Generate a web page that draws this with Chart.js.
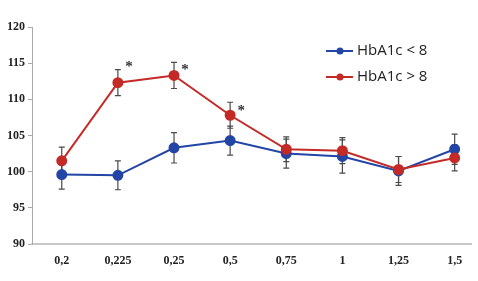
<!DOCTYPE html>
<html>
<head>
<meta charset="utf-8">
<script src="https://cdn.jsdelivr.net/npm/chart.js@4.4.0/dist/chart.umd.min.js"></script>
<style>
html,body{margin:0;padding:0;background:#fff;}
#wrap{width:478px;height:281px;position:relative;}
</style>
</head>
<body>
<div id="wrap"><canvas id="c"></canvas></div>
<script>
/* HbA1c groups — mean with error bars */
const categories=['0,2','0,225','0,25','0,5','0,75','1','1,25','1,5'];
const lowLabel='HbA1c < 8';
const highLabel='HbA1c > 8';
const lowMean=[99.6,99.5,103.3,104.3,102.5,102.1,100.1,103.1];
const lowErr=[2.0,2.0,2.1,2.0,2.0,2.3,2.0,2.1];
const highMean=[101.5,112.3,113.3,107.8,103.1,102.9,100.3,101.9];
const highErr=[1.9,1.8,1.8,1.8,1.7,1.8,1.8,1.8];
const starIdx=[1,2,3];
const starVal=[115.0,114.6,108.9];
const yTicks=[90,95,100,105,110,115,120];

(function(){
  const blue='#2245a6',red='#c42a26';
  function pts(arr){return arr.map(function(v,i){return {x:i,y:v};});}

  const errorBars={id:'errorBars',beforeDatasetsDraw(chart){
    const ctx=chart.ctx,xs=chart.scales.x,ys=chart.scales.y;
    ctx.save();ctx.strokeStyle='#4a4a4a';ctx.lineWidth=1.2;
    [[lowMean,lowErr],[highMean,highErr]].forEach(function(s){
      s[0].forEach(function(v,i){
        const x=xs.getPixelForValue(i),t=ys.getPixelForValue(v+s[1][i]),b=ys.getPixelForValue(v-s[1][i]);
        ctx.beginPath();ctx.moveTo(x,t);ctx.lineTo(x,b);
        ctx.moveTo(x-3,t);ctx.lineTo(x+3,t);ctx.moveTo(x-3,b);ctx.lineTo(x+3,b);ctx.stroke();
      });
    });
    ctx.restore();
  }};

  const extras={id:'extras',afterDatasetsDraw(chart){
    const ctx=chart.ctx,xs=chart.scales.x,ys=chart.scales.y;
    ctx.save();
    ctx.fillStyle='#333';ctx.font='bold 15px "Liberation Serif"';ctx.textAlign='center';ctx.textBaseline='middle';
    starIdx.forEach(function(i,k){ctx.fillText('*',xs.getPixelForValue(i)+11,ys.getPixelForValue(starVal[k])+4);});
    // legend
    ctx.font='15px "Open Sans", "Liberation Sans", sans-serif';ctx.textAlign='left';
    [[lowLabel,blue,51],[highLabel,red,77]].forEach(function(l){
      ctx.strokeStyle=l[1];ctx.lineWidth=2;ctx.beginPath();ctx.moveTo(326,l[2]);ctx.lineTo(353,l[2]);ctx.stroke();
      ctx.fillStyle=l[1];ctx.beginPath();ctx.arc(340,l[2],3.5,0,Math.PI*2);ctx.fill();
      ctx.fillStyle='#222';ctx.fillText(l[0],357,l[2]);
    });
    ctx.restore();
  }};

  new Chart(document.getElementById('c'),{
    type:'line',
    data:{datasets:[
      {label:highLabel,data:pts(highMean),borderColor:red,backgroundColor:red,borderWidth:2,pointRadius:4.5,pointHoverRadius:4.5,order:0},
      {label:lowLabel,data:pts(lowMean),borderColor:blue,backgroundColor:blue,borderWidth:2,pointRadius:4.5,pointHoverRadius:4.5,order:1}
    ]},
    options:{
      responsive:true,maintainAspectRatio:false,animation:false,
      layout:{padding:{top:27,right:0,left:0,bottom:0}},
      plugins:{legend:{display:false},tooltip:{enabled:false}},
      scales:{
        x:{type:'linear',min:-0.53,max:7.3,
          afterFit(s){s.height=37;},
          afterBuildTicks(s){s.ticks=categories.map(function(c,i){return {value:i};});},
          ticks:{autoSkip:false,maxRotation:0,padding:10,color:'#222',font:{family:'"Liberation Serif"',size:12,weight:'bold'},callback:function(v){return categories[v];}},
          grid:{display:false,drawTicks:false},
          border:{color:'#c8c8c8',width:2}},
        y:{min:90,max:120,
          afterFit(s){s.width=32;},
          afterBuildTicks(s){s.ticks=yTicks.map(function(v){return {value:v};});},
          ticks:{padding:3,color:'#222',font:{family:'"Liberation Serif"',size:12,weight:'bold'}},
          grid:{display:true,drawOnChartArea:false,drawTicks:true,tickLength:4,color:'#aaa'},
          border:{color:'#aaa',width:1}}
      }
    },
    plugins:[errorBars,extras]
  });
})();
</script>
</body>
</html>
